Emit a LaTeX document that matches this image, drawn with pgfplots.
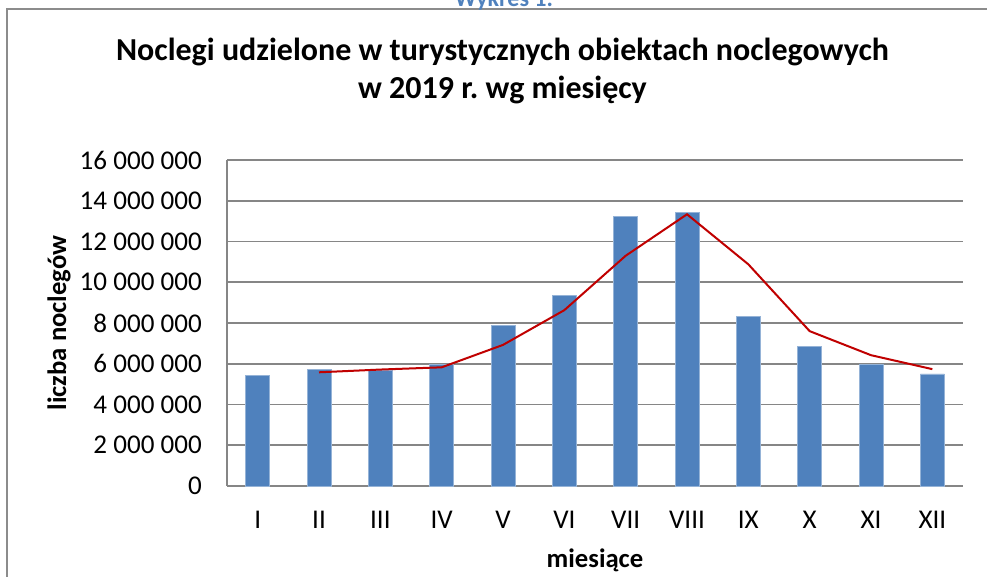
\documentclass[border=0pt]{standalone}
\usepackage{pgfplots}
\pgfplotsset{compat=1.18}
\usepackage{fontspec}
\setmainfont{Carlito}
\frenchspacing
\definecolor{barblue}{HTML}{4F81BD}
\definecolor{linered}{HTML}{C00000}
\definecolor{gridgray}{HTML}{868686}
\definecolor{framegray}{HTML}{8C8C8C}
\begin{document}
\begin{tikzpicture}
\useasboundingbox (0pt,0pt) rectangle (740.25pt,432.75pt);
\draw[framegray, line width=1.2pt] (5.25pt,-15pt) |- (760pt,426pt);
\node[anchor=base, text=barblue, font=\bfseries\fontsize{18pt}{21pt}\selectfont] at (378pt,427.5pt) {Wykres 1.};
\node[anchor=base, font=\bfseries\fontsize{24pt}{28pt}\selectfont] at (376.9pt,387pt) {Noclegi udzielone w turystycznych obiektach noclegowych};
\node[anchor=base, font=\bfseries\fontsize{24pt}{28pt}\selectfont] at (376.9pt,358.5pt) {w 2019 r. wg miesięcy};
\begin{axis}[
  at={(170.25pt,68.25pt)}, anchor=south west,
  scale only axis, width=552pt, height=244.5pt,
  xmin=0.5, xmax=12.5, ymin=0, ymax=16000000,
  xtick={1,2,3,4,5,6,7,8,9,10,11,12},
  xticklabels={I,II,III,IV,V,VI,VII,VIII,IX,X,XI,XII},
  ytick={0,2000000,4000000,6000000,8000000,10000000,12000000,14000000,16000000},
  yticklabels={0,2 000 000,4 000 000,6 000 000,8 000 000,10 000 000,12 000 000,14 000 000,16 000 000},
  scaled y ticks=false,
  axis x line*=bottom, axis y line*=left,
  axis line style={-, draw=gridgray, line width=1.3pt},
  ymajorgrids, grid style={gridgray, line width=1.3pt},
  major tick length=0pt,
  tick label style={font=\fontsize{20.3pt}{24pt}\selectfont},
  yticklabel style={anchor=east, inner sep=0pt, xshift=-18.75pt},
  xticklabel style={anchor=base, inner sep=0pt, yshift=-32.25pt},
  xlabel={miesiące}, ylabel={liczba noclegów},
  label style={font=\bfseries\fontsize{20pt}{24pt}\selectfont},
  xlabel style={at={(axis description cs:0.5,-0.2515)}, anchor=base},
  ylabel style={at={(axis description cs:-0.2283,0.5)}, anchor=center},
  clip=false,
]
\addplot[ybar, bar width=0.39, fill=barblue, draw=barblue!60!white, line width=0.4pt] coordinates {
 (1,5430000) (2,5730000) (3,5700000) (4,5950000) (5,7900000) (6,9360000)
 (7,13240000) (8,13430000) (9,8330000) (10,6870000) (11,5970000) (12,5500000)
};
\addplot[linered, line width=1.5pt, mark=none] coordinates {
 (2,5580000) (3,5715000) (4,5825000) (5,6925000) (6,8630000) (7,11300000)
 (8,13335000) (9,10880000) (10,7600000) (11,6420000) (12,5735000)
};
\end{axis}
\end{tikzpicture}
\end{document}
